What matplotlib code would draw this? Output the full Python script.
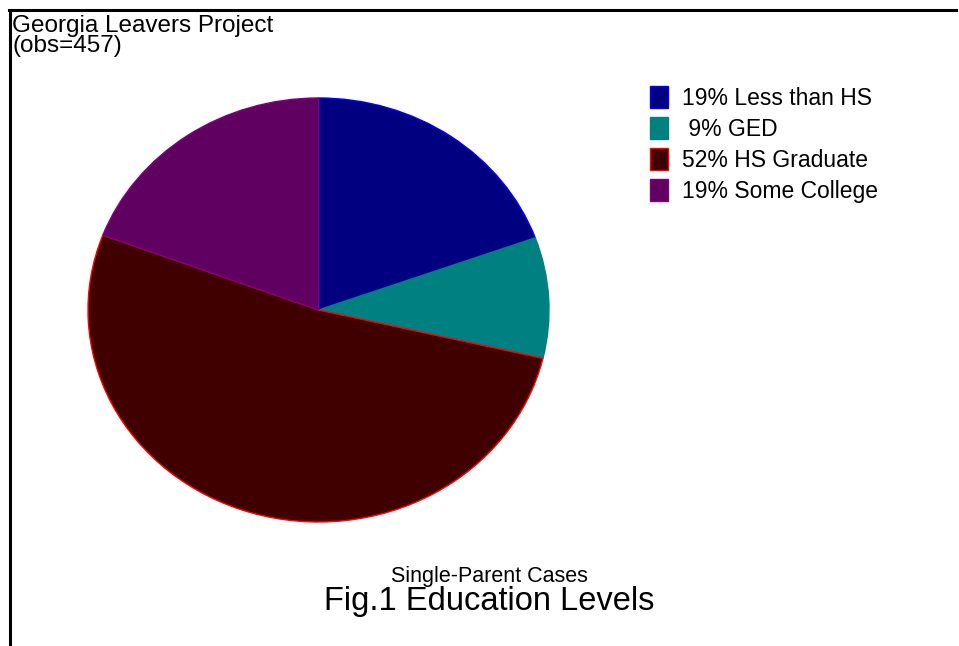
import matplotlib
matplotlib.use("Agg")
import matplotlib.pyplot as plt
from matplotlib.lines import Line2D

categories = ["Less than HS", "GED", "HS Graduate", "Some College"]
counts = [89, 42, 238, 88]
pct_labels = ["19%", " 9%", "52%", "19%"]
fill_colors = ["#000080", "#008080", "#400000", "#600060"]
edge_colors = ["#0000ff", "#008080", "#ff0000", "#800080"]
title_top = ["Georgia Leavers Project", "(obs=457)"]
subtitle = "Single-Parent Cases"
title = "Fig.1 Education Levels"

plt.rcParams['font.family'] = ['Liberation Sans', 'DejaVu Sans']

W, H = 959, 646
fig = plt.figure(figsize=(W / 100, H / 100), dpi=100)

# pie axes (elliptical pie)
left, right, top, bottom = 88, 549, 98, 522
ax = fig.add_axes([left / W, (H - bottom) / H, (right - left) / W, (bottom - top) / H])
wedges, _ = ax.pie(counts, colors=fill_colors, startangle=90, counterclock=False,
                   wedgeprops=dict(linewidth=1.0))
for w, ec in zip(wedges, edge_colors):
    w.set_edgecolor(ec)
ax.set_aspect('auto')
ax.set_xlim(-1.0, 1.0)
ax.set_ylim(-1.0, 1.0)
ax.axis('off')

# legend
labels = [f"{p} {c}" for p, c in zip(pct_labels, categories)]
leg = fig.legend(wedges, labels, loc='upper left',
                 bbox_to_anchor=(650 / W, 1 - 86 / H),
                 frameon=False, fontsize=16.5, handlelength=0.79, handleheight=1.12,
                 handletextpad=0.6, labelspacing=0.31, borderpad=0.0,
                 borderaxespad=0.0)

# frame lines
fig.add_artist(Line2D([10 / W, 10 / W], [0, 1 - 10 / H], color='black', lw=2.2,
                      transform=fig.transFigure))
fig.add_artist(Line2D([9 / W, 956 / W], [1 - 10 / H, 1 - 10 / H], color='black', lw=2.2,
                      transform=fig.transFigure))

# texts
for i, line in enumerate(title_top):
    fig.text(12 / W, 1 - (32 + 20 * i) / H, line, ha='left', va='baseline', fontsize=17.5)
fig.text(489 / W, 1 - 582 / H, subtitle, ha='center', va='baseline', fontsize=15.5)
fig.text(489 / W, 1 - 610 / H, title, ha='center', va='baseline', fontsize=23.5)

fig.savefig("out.png", dpi=100)
